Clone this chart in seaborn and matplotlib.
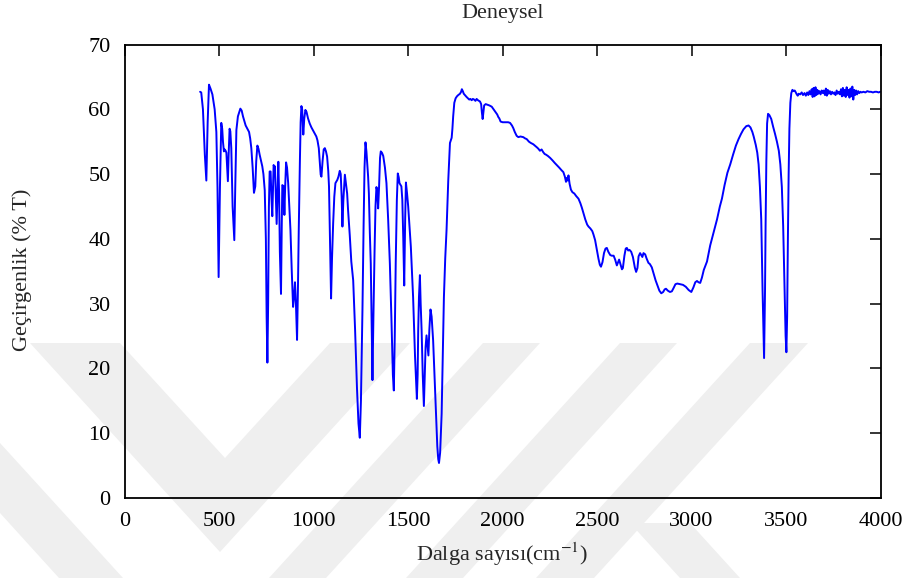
import numpy as np
import pandas as pd
import matplotlib
matplotlib.use("Agg")
import matplotlib.pyplot as plt
from matplotlib.patches import Polygon
import seaborn as sns

# ---------------- data ----------------
wavenumber = [
    400, 406, 415, 425, 433, 440, 447, 455, 465, 477, 486, 492, 498, 505, 512, 517, 521, 526, 530, 535,
    539, 543, 547, 551, 556, 560, 565, 572, 581, 586, 592, 600, 613, 620, 627, 641, 659, 665, 671, 678,
    685, 692, 697, 703, 709, 715, 729, 735, 742, 748, 752, 756, 760, 764, 768, 773, 778, 782, 786, 789,
    793, 796, 800, 805, 810, 814, 818, 822, 828, 832, 835, 842, 846, 850, 855, 860, 866, 872, 878, 885,
    892, 897, 902, 907, 913, 918, 922, 928, 932, 936, 940, 946, 951, 957, 963, 971, 980, 989, 1000, 1015,
    1021, 1028, 1033, 1038, 1042, 1048, 1054, 1060, 1066, 1072, 1078, 1082, 1087, 1093, 1098, 1104, 1110, 1116, 1126, 1132,
    1139, 1144, 1149, 1153, 1158, 1166, 1172, 1178, 1183, 1192, 1200, 1210, 1220, 1230, 1238, 1245, 1251, 1259, 1265, 1270,
    1275, 1280, 1289, 1293, 1298, 1303, 1308, 1312, 1317, 1323, 1328, 1333, 1337, 1342, 1347, 1352, 1356, 1362, 1369, 1378,
    1386, 1395, 1404, 1412, 1420, 1425, 1430, 1435, 1441, 1446, 1451, 1455, 1465, 1470, 1475, 1480, 1485, 1489, 1495, 1501,
    1508, 1515, 1527, 1537, 1547, 1551, 1554, 1558, 1563, 1567, 1572, 1578, 1584, 1589, 1593, 1598, 1603, 1608, 1613, 1619,
    1625, 1633, 1640, 1648, 1655, 1660, 1664, 1670, 1678, 1684, 1690, 1697, 1704, 1713, 1722, 1731, 1735, 1739, 1745, 1752,
    1759, 1766, 1775, 1781, 1785, 1790, 1795, 1801, 1810, 1817, 1824, 1830, 1837, 1843, 1850, 1857, 1863, 1870, 1881, 1887,
    1891, 1895, 1899, 1903, 1911, 1920, 1930, 1943, 1955, 1965, 1972, 1978, 1983, 1990, 2001, 2015, 2030, 2040, 2050, 2057,
    2065, 2075, 2084, 2095, 2110, 2120, 2128, 2140, 2150, 2163, 2175, 2183, 2190, 2198, 2207, 2215, 2223, 2230, 2240, 2252,
    2265, 2277, 2287, 2300, 2312, 2322, 2330, 2336, 2340, 2345, 2349, 2355, 2362, 2370, 2380, 2390, 2402, 2412, 2420, 2428,
    2438, 2448, 2455, 2465, 2475, 2481, 2490, 2500, 2508, 2515, 2521, 2529, 2537, 2545, 2552, 2560, 2570, 2578, 2588, 2596,
    2605, 2612, 2617, 2625, 2632, 2637, 2645, 2652, 2658, 2665, 2672, 2681, 2690, 2700, 2707, 2714, 2720, 2728, 2734, 2740,
    2746, 2755, 2762, 2772, 2780, 2790, 2800, 2810, 2820, 2830, 2840, 2850, 2858, 2865, 2875, 2886, 2896, 2905, 2915, 2925,
    2940, 2955, 2970, 2985, 2999, 3010, 3020, 3029, 3037, 3046, 3055, 3065, 3082, 3099, 3117, 3135, 3150, 3161, 3175, 3190,
    3205, 3220, 3235, 3249, 3262, 3275, 3290, 3302, 3312, 3322, 3329, 3340, 3348, 3355, 3362, 3369, 3376, 3384, 3389, 3392,
    3396, 3400, 3405, 3412, 3422, 3432, 3442, 3452, 3462, 3470, 3478, 3485, 3492, 3498, 3502, 3506, 3510, 3514, 3518, 3523,
    3528, 3534, 3540, 3546, 3550, 3557, 3562, 3567, 3575, 3583, 3590, 3598, 3605, 3612, 3618, 3624, 3630, 3636, 3641, 3646,
    3651, 3656, 3661, 3666, 3671, 3677, 3683, 3689, 3695, 3700, 3706, 3711, 3716, 3721, 3726, 3732, 3738, 3744, 3750, 3756,
    3762, 3768, 3774, 3780, 3786, 3791, 3796, 3801, 3806, 3811, 3816, 3821, 3826, 3831, 3836, 3841, 3846, 3851, 3856, 3861,
    3866, 3871, 3876, 3882, 3888, 3894, 3900, 3910, 3920, 3930, 3940, 3950, 3960, 3970, 3980, 3990, 3998,
]
transmittance = [
    62.7, 62.6, 60.0, 53.0, 49.0, 58.0, 63.8, 63.2, 62.3, 60.0, 56.5, 48.0, 34.1, 48.0, 57.9, 57.0, 55.0, 53.5, 53.8, 53.6,
    53.3, 51.0, 48.9, 53.0, 57.0, 56.6, 54.0, 45.0, 39.8, 48.0, 56.8, 58.9, 60.1, 59.8, 58.9, 57.5, 56.5, 55.5, 54.0, 51.0,
    47.1, 48.1, 52.0, 54.4, 53.9, 53.0, 51.2, 50.0, 47.5, 40.0, 28.0, 20.9, 30.0, 45.0, 50.4, 50.4, 46.0, 43.5, 48.0, 51.4,
    51.0, 51.2, 47.0, 42.3, 48.0, 51.9, 47.0, 38.0, 31.5, 42.0, 48.3, 48.1, 43.7, 48.0, 51.8, 51.0, 48.6, 45.0, 41.4, 35.0,
    29.5, 31.0, 33.3, 30.0, 24.4, 33.0, 41.4, 52.0, 58.0, 60.5, 60.0, 56.1, 58.5, 59.9, 59.6, 58.6, 57.8, 57.2, 56.6, 55.8,
    55.2, 54.0, 52.0, 49.9, 49.6, 52.0, 53.8, 54.0, 53.5, 52.7, 50.5, 48.1, 40.0, 30.8, 37.0, 42.4, 46.5, 48.6, 49.1, 49.6,
    50.5, 50.0, 46.5, 41.9, 46.0, 49.9, 48.5, 47.0, 44.4, 40.5, 36.5, 33.6, 26.0, 17.0, 11.5, 9.3, 15.0, 29.0, 42.0, 51.0,
    54.9, 53.5, 49.6, 47.0, 41.0, 36.2, 26.0, 18.2, 28.0, 38.0, 45.0, 48.0, 47.5, 44.7, 48.1, 52.5, 53.5, 53.3, 52.8, 51.0,
    48.6, 43.0, 36.2, 28.0, 19.0, 16.6, 25.0, 36.2, 46.0, 50.1, 49.5, 48.6, 48.1, 46.0, 40.0, 32.8, 43.0, 48.7, 47.0, 45.0,
    42.0, 38.8, 31.0, 22.0, 15.3, 19.0, 25.9, 31.0, 34.4, 30.0, 25.9, 19.0, 14.2, 19.0, 23.3, 25.1, 23.5, 22.0, 26.0, 29.1,
    28.0, 24.3, 19.0, 13.0, 8.0, 6.0, 5.4, 7.0, 13.0, 22.0, 31.0, 37.0, 41.4, 49.0, 54.8, 55.6, 57.0, 58.9, 61.0, 61.7,
    62.0, 62.2, 62.4, 62.7, 63.1, 62.8, 62.4, 62.2, 61.9, 61.7, 61.5, 61.6, 61.4, 61.6, 61.5, 61.3, 61.6, 61.4, 61.2, 60.8,
    59.5, 58.5, 59.5, 60.6, 60.8, 60.7, 60.6, 60.4, 59.9, 59.5, 59.2, 58.8, 58.6, 58.1, 58.0, 58.0, 58.0, 57.9, 57.5, 57.1,
    56.5, 55.9, 55.7, 55.8, 55.7, 55.5, 55.4, 55.0, 54.8, 54.6, 54.3, 54.1, 53.9, 53.6, 53.8, 53.4, 53.1, 53.0, 52.8, 52.5,
    52.1, 51.7, 51.4, 51.0, 50.6, 50.3, 49.6, 48.8, 49.4, 49.0, 49.8, 48.5, 47.6, 47.2, 47.0, 46.6, 46.2, 45.5, 44.8, 44.0,
    43.0, 42.2, 41.9, 41.6, 41.2, 40.7, 39.8, 38.2, 36.9, 36.0, 35.7, 36.4, 37.8, 38.5, 38.6, 38.0, 37.5, 37.4, 37.4, 36.8,
    35.9, 36.4, 36.8, 36.0, 35.3, 35.5, 37.4, 38.5, 38.6, 38.2, 38.3, 38.0, 37.2, 35.6, 34.9, 35.5, 37.3, 37.8, 37.5, 37.2,
    37.8, 37.6, 37.0, 36.3, 36.1, 35.6, 34.6, 33.6, 32.8, 32.0, 31.6, 31.8, 32.2, 32.3, 32.0, 31.8, 31.9, 32.4, 33.0, 33.1,
    33.0, 32.9, 32.6, 32.1, 31.8, 32.5, 33.3, 33.5, 33.3, 33.2, 34.0, 35.2, 36.5, 39.0, 41.0, 43.0, 45.0, 46.2, 48.3, 50.2,
    51.5, 53.0, 54.4, 55.4, 56.2, 56.9, 57.4, 57.5, 57.2, 56.5, 55.8, 54.5, 53.3, 51.5, 48.0, 43.0, 32.0, 21.6, 32.0, 42.0,
    52.0, 57.8, 59.3, 59.1, 58.5, 57.3, 56.2, 55.0, 53.6, 51.5, 48.0, 42.0, 33.0, 25.0, 22.5, 28.0, 40.0, 50.0, 57.0, 61.0,
    62.5, 63.0, 62.8, 62.9, 62.7, 62.3, 62.1, 62.4, 62.3, 62.6, 62.2, 62.5, 62.1, 62.6, 62.2, 62.8, 62.3, 63.1, 61.9, 63.3,
    62.0, 63.4, 62.2, 63.0, 62.4, 62.8, 62.3, 62.9, 62.5, 62.9, 62.2, 63.2, 62.1, 63.0, 62.4, 62.8, 62.3, 62.7, 62.4, 62.6,
    62.2, 62.9, 62.4, 62.7, 62.3, 63.1, 62.0, 63.3, 62.1, 63.0, 61.9, 63.4, 62.2, 63.0, 61.8, 63.2, 62.0, 63.5, 61.5, 63.0,
    62.2, 62.9, 62.3, 62.8, 62.5, 62.7, 62.6, 62.7, 62.6, 62.8, 62.7, 62.7, 62.6, 62.7, 62.7, 62.6, 62.7,
]
x_ticks = [0, 500, 1000, 1500, 2000, 2500, 3000, 3500, 4000]
y_ticks = [0, 10, 20, 30, 40, 50, 60, 70]
title_text = "Deneysel"
x_label = "Dalga sayısı(cm$^{-1}$)"
y_label = "Geçirgenlik (% T)"

df = pd.DataFrame({"wn": wavenumber, "T": transmittance})

# ---------------- style ----------------
sns.set_style("white")
plt.rcParams["font.family"] = ["Liberation Serif", "DejaVu Serif"]
plt.rcParams["mathtext.fontset"] = "stix"
FS = 16

W, H = 911, 578
fig = plt.figure(figsize=(W / 100, H / 100), dpi=100)
fig.patch.set_facecolor("white")

# faint background watermark (decorative chevron bands), in pixel coords
def px(pts):
    return [(x / W, 1 - y / H) for x, y in pts]

wm_color = "#efefef"
bands = [
    [(0, 443), (123, 578), (59, 578), (0, 513)],
    [(30, 343), (120, 343), (225, 458), (330, 343), (410, 343), (220, 552)],
    [(483, 343), (540, 343), (326, 578), (269, 578)],
    [(620, 343), (677, 343), (463, 578), (406, 578)],
    [(750, 343), (808, 343), (594, 578), (536, 578)],
    [(630, 523), (690, 523), (740, 578), (680, 578)],
]
for b in bands:
    fig.patches.append(Polygon(px(b), closed=True, transform=fig.transFigure,
                               facecolor=wm_color, edgecolor="none", zorder=-10))

L, R, T, B = 124.5, 880.5, 44.5, 498.0
ax = fig.add_axes([L / W, 1 - B / H, (R - L) / W, (B - T) / H])
ax.set_zorder(5)
ax.patch.set_alpha(0)

sns.lineplot(data=df, x="wn", y="T", ax=ax, color="#0000ff", linewidth=1.4,
             estimator=None, sort=False, legend=False)

ax.set_xlim(0, 4000)
ax.set_ylim(0, 70)
ax.set_xticks(x_ticks)
ax.set_yticks(y_ticks)
ax.set_xlabel("")
ax.set_ylabel("")
ax.tick_params(direction="in", length=8, width=1.1, top=True, right=True,
               labeltop=False, labelright=False, labelsize=FS, pad=10, colors="black")
for s in ax.spines.values():
    s.set_visible(True)
    s.set_color("black")
    s.set_linewidth(1.3)

fig.text(502.5 / W, 1 - 18 / H, title_text, ha="center", va="baseline", fontsize=FS, zorder=6)
fig.text(502 / W, 1 - 561 / H, x_label, ha="center", va="baseline", fontsize=FS, zorder=6)
fig.text(22 / W, 1 - 270 / H, y_label, ha="center", va="center", rotation=90, fontsize=FS, zorder=6)

fig.savefig("out.png", dpi=100, facecolor="white")
